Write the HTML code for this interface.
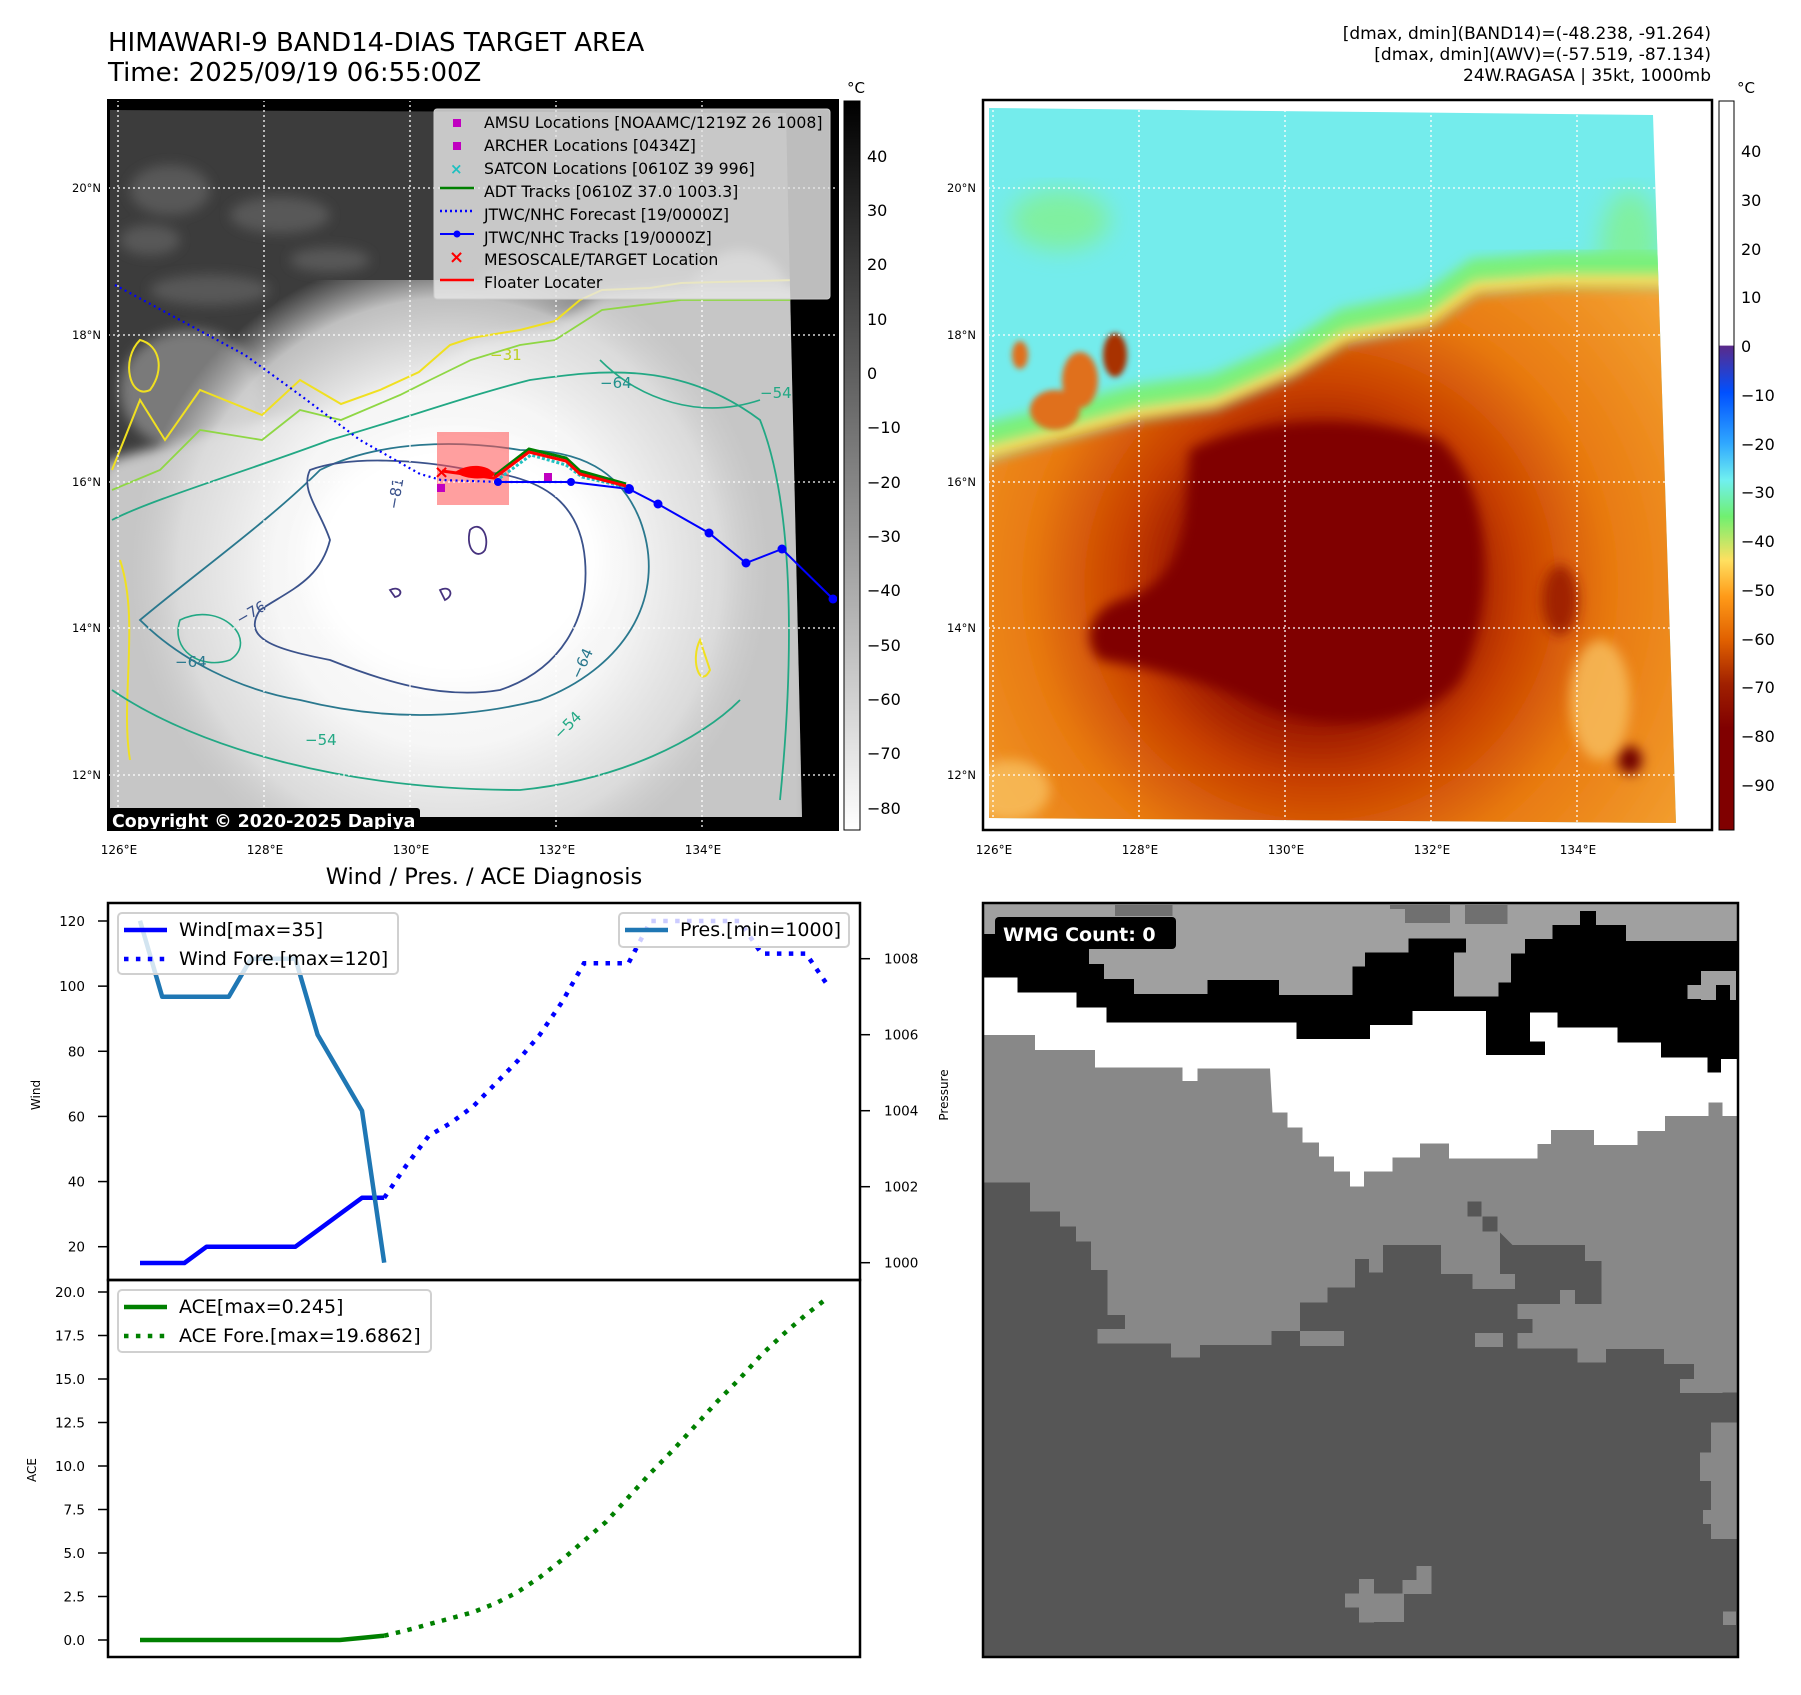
<!DOCTYPE html>
<html><head><meta charset="utf-8">
<style>
html,body{margin:0;padding:0;background:#fff;}
body{width:1801px;height:1690px;position:relative;overflow:hidden;font-family:"Liberation Sans","DejaVu Sans",sans-serif;}
svg text{font-family:"DejaVu Sans","Liberation Sans",sans-serif;}
</style></head>
<body>
<svg id="root" width="1801" height="1690" viewBox="0 0 1801 1690" xmlns="http://www.w3.org/2000/svg">
<defs>
  <filter id="b3"><feGaussianBlur stdDeviation="3"/></filter>
  <filter id="b6"><feGaussianBlur stdDeviation="6"/></filter>
  <filter id="b12"><feGaussianBlur stdDeviation="12"/></filter>
  <linearGradient id="cb1" x1="0" y1="0" x2="0" y2="1">
    <stop offset="0" stop-color="#000"/><stop offset="1" stop-color="#fff"/>
  </linearGradient>
  <linearGradient id="cb2" x1="0" y1="0" x2="0" y2="1">
    <stop offset="0" stop-color="#fff"/>
    <stop offset="0.335" stop-color="#fff"/>
    <stop offset="0.336" stop-color="#5a2a8a"/>
    <stop offset="0.40" stop-color="#0050ff"/>
    <stop offset="0.47" stop-color="#30a8ff"/>
    <stop offset="0.52" stop-color="#70f0f0"/>
    <stop offset="0.57" stop-color="#70f070"/>
    <stop offset="0.63" stop-color="#ffe060"/>
    <stop offset="0.68" stop-color="#ff9a18"/>
    <stop offset="0.74" stop-color="#e06000"/>
    <stop offset="0.80" stop-color="#a02000"/>
    <stop offset="0.86" stop-color="#800000"/>
    <stop offset="1" stop-color="#800000"/>
  </linearGradient>
  <radialGradient id="storm1" cx="450" cy="570" r="320" gradientUnits="userSpaceOnUse">
    <stop offset="0" stop-color="#fff"/><stop offset="0.55" stop-color="#f6f6f6"/>
    <stop offset="0.85" stop-color="#e0e0e0" stop-opacity="0.8"/><stop offset="1" stop-color="#d0d0d0" stop-opacity="0"/>
  </radialGradient>
  <radialGradient id="orange2" cx="1320" cy="585" r="470" gradientUnits="userSpaceOnUse">
    <stop offset="0.25" stop-color="#8a0800"/><stop offset="0.42" stop-color="#c84000"/>
    <stop offset="0.62" stop-color="#e87a10"/><stop offset="1" stop-color="#f6a838"/>
  </radialGradient>
</defs>

<!-- Titles -->
<text x="108" y="51" font-size="26" fill="#000">HIMAWARI-9 BAND14-DIAS TARGET AREA</text>
<text x="108" y="81" font-size="26" fill="#000">Time: 2025/09/19 06:55:00Z</text>
<g font-size="17" text-anchor="end" fill="#000">
  <text x="1711" y="39">[dmax, dmin](BAND14)=(-48.238, -91.264)</text>
  <text x="1711" y="60">[dmax, dmin](AWV)=(-57.519, -87.134)</text>
  <text x="1711" y="81">24W.RAGASA | 35kt, 1000mb</text>
</g>

<!-- MAP 1 -->
<g>
  <clipPath id="m1clip"><rect x="108" y="100" width="730" height="730"/></clipPath>
  <rect x="108" y="100" width="730" height="730" fill="#000"/>
  <g clip-path="url(#m1clip)">
    <clipPath id="m1data"><polygon points="110,110 786,113 802,817 110,817"/></clipPath>
    <g clip-path="url(#m1data)">
      <rect x="100" y="100" width="740" height="740" fill="#3c3c3c"/>
      <g filter="url(#b6)" fill="#585858">
        <ellipse cx="170" cy="190" rx="40" ry="25"/><ellipse cx="280" cy="215" rx="50" ry="18"/>
        <ellipse cx="330" cy="260" rx="40" ry="12"/><ellipse cx="210" cy="290" rx="60" ry="15"/>
        <ellipse cx="600" cy="280" rx="120" ry="25" fill="#707070"/><ellipse cx="740" cy="300" rx="50" ry="50" fill="#9a9a9a"/>
        <ellipse cx="190" cy="390" rx="70" ry="60" fill="#7a7a7a"/><ellipse cx="150" cy="240" rx="30" ry="15"/>
      </g>
      <path filter="url(#b6)" fill="#c6c6c6" d="M100,470 L114,459 L165,445 L262,420 L341,409 L419,376 L471,343 L555,326 L602,293 L681,287 L810,287 L810,830 L100,830 Z"/>
      <rect x="100" y="280" width="740" height="560" fill="url(#storm1)"/>
      <ellipse cx="455" cy="560" rx="150" ry="125" fill="#fff" filter="url(#b12)"/>
      <!-- contours -->
      <path fill="none" stroke="#f0e020" stroke-width="2" d="M112,470 L140,400 L165,440 L200,390 L262,415 L300,380 L341,404 L380,390 L419,372 L450,345 L471,338 L520,330 L555,321 L580,300 L602,290 L650,288 L681,283 L795,280"/>
      <path fill="none" stroke="#f0e020" stroke-width="2" d="M140,340 C120,360 130,400 150,390 C165,370 160,345 140,340 Z M120,560 C140,620 120,700 130,760 M700,640 C690,660 700,690 710,670 Z"/>
      <path fill="none" stroke="#8fd744" stroke-width="1.8" d="M112,490 L160,470 L200,430 L262,440 L300,410 L341,420 L400,395 L430,380 L471,360 L520,345 L555,340 L602,310 L681,300 L795,300"/>
      <path fill="none" stroke="#22a884" stroke-width="1.8" d="M112,520 C150,500 250,470 330,440 C400,420 470,395 530,380 C600,370 680,360 760,420 C800,520 790,700 780,800 M112,690 C200,750 350,790 520,790 C620,780 700,740 740,700"/>
      <path fill="none" stroke="#22a884" stroke-width="1.6" d="M600,360 C640,400 700,420 760,400 M180,620 C220,600 260,640 230,660 C200,670 170,650 180,620 Z"/>
      <path fill="none" stroke="#2a788e" stroke-width="1.8" d="M140,620 C200,570 270,520 320,470 C380,440 460,440 520,450 C580,450 620,470 640,520 C670,600 620,670 540,700 C460,720 380,720 300,700 C240,690 180,660 140,620 Z"/>
      <path fill="none" stroke="#3b528b" stroke-width="1.8" d="M310,470 C350,455 420,460 470,470 C540,475 580,500 585,560 C590,620 560,670 500,690 C440,700 380,680 330,660 C280,650 240,640 260,610 C290,590 320,580 330,540 C320,510 300,490 310,470 Z"/>
      <path fill="none" stroke="#46327e" stroke-width="1.8" d="M470,530 C480,520 490,535 485,550 C478,560 465,550 470,530 Z M440,590 C450,585 455,595 445,600 Z M390,590 C400,585 405,595 395,597 Z"/>
      <rect x="437" y="432" width="72" height="73" fill="#ff5050" fill-opacity="0.55"/>
      <g font-size="15" fill="#2a788e">
        <text x="600" y="388" fill="#21918c">−64</text>
        <text x="760" y="398" fill="#22a884">−54</text>
        <text x="175" y="667">−64</text>
        <text x="305" y="745" fill="#22a884">−54</text>
        <text x="490" y="360" fill="#bcd020">−31</text>
        <text transform="translate(398,510) rotate(-80)" fill="#3b528b">−81</text>
        <text transform="translate(240,625) rotate(-30)" fill="#3b528b">−76</text>
        <text transform="translate(580,680) rotate(-65)">−64</text>
        <text transform="translate(560,740) rotate(-45)" fill="#22a884">−54</text>
      </g>
    </g>
    <g stroke="#fff" stroke-width="1.3" stroke-dasharray="2 3">
      <line x1="118" y1="100" x2="118" y2="830"/><line x1="264" y1="100" x2="264" y2="830"/>
      <line x1="410" y1="100" x2="410" y2="830"/><line x1="556" y1="100" x2="556" y2="830"/>
      <line x1="702" y1="100" x2="702" y2="830"/>
      <line x1="108" y1="188" x2="838" y2="188"/><line x1="108" y1="335" x2="838" y2="335"/>
      <line x1="108" y1="482" x2="838" y2="482"/><line x1="108" y1="628" x2="838" y2="628"/>
      <line x1="108" y1="775" x2="838" y2="775"/>
    </g>
    <polyline fill="none" stroke="#0000ff" stroke-width="2.2" stroke-dasharray="2 3.5" points="115,285 180,320 245,355 300,395 360,440 420,474 441,480 500,482 571,482"/>
    <g>
      <polyline fill="none" stroke="#0000ff" stroke-width="2" points="498,482 571,482 629,489 658,504 709,533 746,563 782,549 833,599"/>
      <g fill="#0000ff"><circle cx="498" cy="482" r="4"/><circle cx="571" cy="482" r="4"/><circle cx="629" cy="489" r="5"/><circle cx="658" cy="504" r="4.5"/><circle cx="709" cy="533" r="4.5"/><circle cx="746" cy="563" r="4.5"/><circle cx="782" cy="549" r="4.5"/><circle cx="833" cy="599" r="4.5"/></g>
    </g>
    <polyline fill="none" stroke="#20c0c0" stroke-width="3" stroke-dasharray="3 2" points="500,478 531,455 566,465 582,477 626,487"/>
    <polyline fill="none" stroke="#008000" stroke-width="3" points="494,476 529,449 566,458 580,471 626,484"/>
    <polyline fill="none" stroke="#ff0000" stroke-width="3" points="442,471 494,478 529,452 566,461 580,474 626,486"/>
    <path d="M455,472 C470,462 490,465 495,475 C485,480 465,480 455,472 Z" fill="#ff0000"/>
    <text x="434" y="478" font-size="18" font-weight="bold" fill="#ff0000">×</text>
    <rect x="437" y="484" width="8" height="8" fill="#c000c0"/>
    <rect x="544" y="473" width="8" height="8" fill="#c000c0"/>
    <g>
      <rect x="434" y="109" width="396" height="190" rx="3" fill="#e6e6e6" fill-opacity="0.82" stroke="#cccccc"/>
      <rect x="453" y="119" width="8" height="8" fill="#c000c0"/>
      <rect x="453" y="142" width="8" height="8" fill="#c000c0"/>
      <text x="450" y="174" font-size="15" font-weight="bold" fill="#20c0c0">×</text>
      <line x1="440" y1="188" x2="474" y2="188" stroke="#008000" stroke-width="2.5"/>
      <line x1="440" y1="211" x2="474" y2="211" stroke="#0000ff" stroke-width="2.5" stroke-dasharray="2 3"/>
      <line x1="440" y1="234" x2="474" y2="234" stroke="#0000ff" stroke-width="2"/><circle cx="457" cy="234" r="3.5" fill="#0000ff"/>
      <text x="449" y="263" font-size="18" font-weight="bold" fill="#ff0000">×</text>
      <line x1="440" y1="280" x2="474" y2="280" stroke="#ff0000" stroke-width="2.5"/>
      <g font-size="15.7" fill="#000">
        <text x="484" y="128">AMSU Locations [NOAAMC/1219Z 26 1008]</text>
        <text x="484" y="151">ARCHER Locations [0434Z]</text>
        <text x="484" y="174">SATCON Locations [0610Z 39 996]</text>
        <text x="484" y="197">ADT Tracks [0610Z 37.0 1003.3]</text>
        <text x="484" y="220">JTWC/NHC Forecast [19/0000Z]</text>
        <text x="484" y="243">JTWC/NHC Tracks [19/0000Z]</text>
        <text x="484" y="265">MESOSCALE/TARGET Location</text>
        <text x="484" y="288">Floater Locater</text>
      </g>
    </g>
    <g>
      <rect x="108" y="808" width="312" height="24" rx="3" fill="#000"/>
      <text x="112" y="827" font-size="17.4" font-weight="bold" fill="#fff">Copyright © 2020-2025 Dapiya</text>
    </g>
  </g>
  <rect x="108" y="100" width="730" height="730" fill="none" stroke="#000" stroke-width="2"/>
  <g font-size="11.5" fill="#000" text-anchor="end">
    <text x="101" y="192">20°N</text><text x="101" y="339">18°N</text><text x="101" y="486">16°N</text><text x="101" y="632">14°N</text><text x="101" y="779">12°N</text>
  </g>
  <g font-size="12" fill="#000" text-anchor="middle">
    <text x="119" y="854">126°E</text><text x="265" y="854">128°E</text><text x="411" y="854">130°E</text><text x="557" y="854">132°E</text><text x="703" y="854">134°E</text>
  </g>
</g>

<g>
  <rect x="844" y="101" width="16" height="729" fill="url(#cb1)" stroke="#000" stroke-width="1"/>
  <text x="856" y="93" font-size="15" text-anchor="middle">°C</text>
  <g font-size="16" fill="#000">
    <text x="867" y="162">40</text><text x="867" y="216">30</text><text x="867" y="270">20</text><text x="867" y="325">10</text>
    <text x="867" y="379">0</text><text x="867" y="433">−10</text><text x="867" y="488">−20</text><text x="867" y="542">−30</text>
    <text x="867" y="596">−40</text><text x="867" y="651">−50</text><text x="867" y="705">−60</text><text x="867" y="759">−70</text><text x="867" y="814">−80</text>
  </g>
</g>

<!-- MAP 2 -->
<g>
  <clipPath id="m2clip"><polygon points="989,108 1653,115 1676,823 989,818"/></clipPath>
  <rect x="983" y="100" width="729" height="730" fill="#fff"/>
  <g clip-path="url(#m2clip)">
    <rect x="980" y="100" width="740" height="740" fill="#74ecec"/>
    <g filter="url(#b12)" fill="#80f0a0">
      <ellipse cx="1060" cy="220" rx="50" ry="30"/><ellipse cx="1630" cy="250" rx="30" ry="60"/>
      <ellipse cx="1580" cy="290" rx="70" ry="25"/>
    </g>
    <path filter="url(#b6)" fill="none" stroke="#7af07a" stroke-width="30" d="M980,440 L1040,425 L1137,400 L1216,389 L1294,356 L1346,323 L1430,306 L1477,273 L1556,267 L1690,267"/>
    <path filter="url(#b6)" fill="none" stroke="#f8e060" stroke-width="16" d="M980,455 L1040,440 L1137,415 L1216,404 L1294,371 L1346,338 L1430,321 L1477,288 L1556,282 L1690,282"/>
    <g filter="url(#b3)" fill="#e0701a">
      <ellipse cx="1020" cy="355" rx="8" ry="14"/><ellipse cx="1080" cy="380" rx="18" ry="28"/>
      <ellipse cx="1115" cy="355" rx="12" ry="22" fill="#a83000"/><ellipse cx="1055" cy="410" rx="25" ry="20"/>
    </g>
    <path filter="url(#b6)" fill="url(#orange2)" d="M975,470 L989,459 L1040,445 L1137,420 L1216,409 L1294,376 L1346,343 L1430,326 L1477,293 L1556,287 L1700,287 L1700,840 L975,840 Z"/>
    <g filter="url(#b6)" fill="#800000">
      <path d="M1190,450 C1250,420 1350,410 1440,440 C1500,500 1490,620 1460,680 C1420,730 1320,735 1250,700 C1200,680 1160,670 1100,660 C1080,640 1090,610 1120,600 C1160,590 1180,560 1185,520 Z"/>
      <ellipse cx="1560" cy="600" rx="18" ry="35" fill="#a02000"/>
      <ellipse cx="1630" cy="760" rx="12" ry="14" fill="#700000"/>
    </g>
    <g filter="url(#b6)" fill="#f8c060" opacity="0.8">
      <ellipse cx="1010" cy="790" rx="40" ry="30"/><ellipse cx="1600" cy="700" rx="30" ry="60"/>
    </g>
  </g>
  <g stroke="#fff" stroke-width="1.3" stroke-dasharray="2 3">
    <line x1="993" y1="100" x2="993" y2="830"/><line x1="1139" y1="100" x2="1139" y2="830"/>
    <line x1="1285" y1="100" x2="1285" y2="830"/><line x1="1431" y1="100" x2="1431" y2="830"/>
    <line x1="1577" y1="100" x2="1577" y2="830"/>
    <line x1="983" y1="188" x2="1712" y2="188"/><line x1="983" y1="335" x2="1712" y2="335"/>
    <line x1="983" y1="482" x2="1712" y2="482"/><line x1="983" y1="628" x2="1712" y2="628"/>
    <line x1="983" y1="775" x2="1712" y2="775"/>
  </g>
  <rect x="983" y="100" width="729" height="730" fill="none" stroke="#000" stroke-width="2.5"/>
  <g font-size="11.5" fill="#000" text-anchor="end">
    <text x="976" y="192">20°N</text><text x="976" y="339">18°N</text><text x="976" y="486">16°N</text><text x="976" y="632">14°N</text><text x="976" y="779">12°N</text>
  </g>
  <g font-size="12" fill="#000" text-anchor="middle">
    <text x="994" y="854">126°E</text><text x="1140" y="854">128°E</text><text x="1286" y="854">130°E</text><text x="1432" y="854">132°E</text><text x="1578" y="854">134°E</text>
  </g>
</g>

<g>
  <rect x="1719" y="101" width="15" height="729" fill="url(#cb2)" stroke="#000" stroke-width="1"/>
  <text x="1746" y="93" font-size="15" text-anchor="middle">°C</text>
  <g font-size="16" fill="#000">
    <text x="1741" y="157">40</text><text x="1741" y="206">30</text><text x="1741" y="255">20</text><text x="1741" y="303">10</text>
    <text x="1741" y="352">0</text><text x="1741" y="401">−10</text><text x="1741" y="450">−20</text><text x="1741" y="498">−30</text>
    <text x="1741" y="547">−40</text><text x="1741" y="596">−50</text><text x="1741" y="645">−60</text><text x="1741" y="693">−70</text>
    <text x="1741" y="742">−80</text><text x="1741" y="791">−90</text>
  </g>
</g>

<text x="484" y="884" font-size="22.5" text-anchor="middle">Wind / Pres. / ACE Diagnosis</text>
<g id="charts"></g>

<!-- WMG panel -->
<g>
  <clipPath id="wclip"><rect x="983" y="903" width="755" height="754"/></clipPath>
  <g clip-path="url(#wclip)">
    <g transform="translate(980,900) scale(0.5)">
      <rect x="0" y="0" width="1530" height="1530" fill="#888888"/>
      <polygon fill="#565656" points="0,565 100,565 100,623 160,623 160,653 192,653 192,683 222,683 222,740 255,740 255,830 290,830 290,858 235,858 235,887 382,887 382,915 440,915 440,890 583,890 583,862 640,862 640,805 695,805 695,775 750,775 750,718 778,718 778,745 806,745 806,690 922,690 922,748 985,748 985,778 1070,778 1070,748 1040,748 1040,665 1065,690 1210,690 1210,722 1243,722 1243,808 1190,808 1190,780 1160,780 1160,808 1075,808 1075,838 1105,838 1105,866 1075,866 1075,897 1195,897 1195,925 1252,925 1252,898 1368,898 1368,928 1428,928 1428,958 1485,958 1485,985 1520,985 1520,1530 0,1530"/>
      <g fill="#888888">
        <rect x="1462" y="1045" width="58" height="233"/><rect x="1440" y="1105" width="40" height="57"/><rect x="1446" y="1220" width="30" height="28"/>
        <rect x="758" y="1358" width="30" height="87"/><rect x="730" y="1387" width="118" height="28"/><rect x="788" y="1387" width="60" height="57"/>
        <rect x="845" y="1360" width="58" height="28"/><rect x="873" y="1332" width="30" height="28"/>
        <rect x="640" y="862" width="88" height="30"/><rect x="990" y="866" width="56" height="28"/><rect x="1486" y="1423" width="26" height="27"/>
        <rect x="1400" y="958" width="85" height="28"/>
      </g>
      <g fill="#565656"><rect x="975" y="603" width="28" height="30"/><rect x="1005" y="633" width="30" height="30"/></g>
      <polygon fill="#ffffff" points="0,0 1520,0 1520,432 1485,432 1485,405 1457,405 1457,432 1370,432 1370,462 1315,462 1315,490 1228,490 1228,460 1142,460 1142,488 1115,488 1115,517 938,517 938,487 880,487 880,515 825,515 825,543 768,543 768,573 740,573 740,543 708,543 708,513 678,513 678,485 645,485 645,455 615,455 615,425 585,425 580,337 435,337 435,362 405,362 405,335 230,335 230,300 110,300 110,270 0,270"/>
      <polygon fill="#000000" points="0,0 1520,0 1520,318 1482,318 1482,345 1455,345 1455,315 1362,315 1362,285 1275,285 1275,255 1155,255 1155,225 1100,225 1100,283 1130,283 1130,310 1012,310 1012,222 865,222 865,250 780,250 780,278 633,278 633,245 253,245 253,215 193,215 193,185 75,185 75,155 0,155"/>
      <polygon fill="#a0a0a0" points="0,0 1520,0 1520,82 1292,82 1292,50 1232,50 1232,22 1200,22 1200,50 1145,50 1145,78 1090,78 1090,107 1062,107 1062,165 1037,165 1037,193 948,193 948,105 972,105 972,77 857,77 857,105 770,105 770,133 745,133 745,190 598,190 598,160 455,160 455,188 308,188 308,158 248,158 248,128 218,128 218,68 0,68"/>
      <g fill="#a0a0a0"><rect x="1442" y="142" width="70" height="58"/><rect x="1415" y="170" width="28" height="28"/></g>
      <rect x="1472" y="170" width="28" height="30" fill="#000"/>
      <g fill="#707070"><rect x="270" y="10" width="115" height="22"/><rect x="850" y="10" width="90" height="36"/><rect x="970" y="10" width="85" height="38"/><rect x="820" y="10" width="30" height="8"/></g>
    </g>
    <g>
      <rect x="995" y="917" width="181" height="32" rx="4" fill="#000"/>
      <text x="1003" y="941" font-size="19" font-weight="bold" fill="#fff">WMG Count: 0</text>
    </g>
  </g>
  <rect x="983" y="903" width="755" height="754" fill="none" stroke="#000" stroke-width="2.5"/>
</g>
</svg>

<script>
// ---- chart data ----
const idxObs = [0,1,2,3,4,5,6,7,8,9,10,11];
const idxFore = [11,12,13,14,15,16,17,18,19,20,21,22,23,24,25,26,27,28,29,30,31];
const windObs = [15,15,15,20,20,20,20,20,25,30,35,35];
const windFore = [35,45,54,58,63,70,77,85,95,107,107,107,120,120,120,120,120,110,110,110,100];
const presObs = [1009,1007,1007,1007,1007,1008,1008,1008,1006,1005,1004,1000];
const aceObs = [0,0,0,0,0,0,0,0,0,0,0.12,0.245];
const aceFore = [0.245,0.55,0.9,1.25,1.6,2.1,2.75,3.6,4.6,5.7,6.8,8.2,9.6,10.9,12.3,13.7,15.0,16.4,17.6,18.7,19.69];
const windTicks = [20,40,60,80,100,120];
const presTicks = [1000,1002,1004,1006,1008];
const aceTicks = [0,2.5,5,7.5,10,12.5,15,17.5,20];

const NS = 'http://www.w3.org/2000/svg';
const g = document.getElementById('charts');
function el(tag, attrs, parent){ const e=document.createElementNS(NS,tag); for(const k in attrs) e.setAttribute(k,attrs[k]); (parent||g).appendChild(e); return e; }

const xT = i => 140 + i*22.2;
const yW = v => 1246.7 - (v-20)*3.257;
const yP = v => 1262.7 - (v-1000)*38.0;
const yA = v => 1640 - v*17.4;

function pts(xs, ys, fy){ return xs.map((x,i)=>xT(x).toFixed(1)+','+fy(ys[i]).toFixed(1)).join(' '); }

const cp = el('clipPath',{id:'wclipc'}); el('rect',{x:108,y:903,width:752,height:377},cp);
const cp2 = el('clipPath',{id:'aclipc'}); el('rect',{x:108,y:1280,width:752,height:377},cp2);

const wg = el('g',{'clip-path':'url(#wclipc)'});
const lWindObs = el('polyline',{points:pts(idxObs,windObs,yW),fill:'none',stroke:'#0000ff','stroke-width':4.5,'stroke-linejoin':'round'},wg);


const lWindFore = el('polyline',{points:pts(idxFore,windFore,yW),fill:'none',stroke:'#0000ff','stroke-width':4.5,'stroke-dasharray':'4.5 7.4'},wg);


const lPres = el('polyline',{points:pts(idxObs,presObs,yP),fill:'none',stroke:'#1f77b4','stroke-width':4.5,'stroke-linejoin':'round'},wg);



const ag = el('g',{'clip-path':'url(#aclipc)'});
const lAce = el('polyline',{points:pts(idxObs,aceObs,yA),fill:'none',stroke:'#008000','stroke-width':4.5},ag);


const lAceF = el('polyline',{points:pts(idxFore,aceFore,yA),fill:'none',stroke:'#008000','stroke-width':4.5,'stroke-dasharray':'4.5 7.4'},ag);



windTicks.forEach(v=>{
  el('line',{x1:98,x2:108,y1:yW(v),y2:yW(v),stroke:'#000','stroke-width':1.5});
  const t=el('text',{x:85,y:yW(v)+5,'font-size':13.5,'text-anchor':'end'}); t.textContent=v;
  
  
});
presTicks.forEach(v=>{
  el('line',{x1:860,x2:870,y1:yP(v),y2:yP(v),stroke:'#000','stroke-width':1.5});
  const t=el('text',{x:884,y:yP(v)+5,'font-size':13.5}); t.textContent=v;
  
  
});
aceTicks.forEach(v=>{
  el('line',{x1:98,x2:108,y1:yA(v),y2:yA(v),stroke:'#000','stroke-width':1.5});
  const t=el('text',{x:85,y:yA(v)+5,'font-size':13.5,'text-anchor':'end'}); t.textContent=v.toFixed(1);
  
  
});
const yl1=el('text',{transform:'translate(40,1095) rotate(-90)','font-size':12,'text-anchor':'middle'}); yl1.textContent='Wind';


const yl2=el('text',{transform:'translate(948,1095) rotate(-90)','font-size':12,'text-anchor':'middle'}); yl2.textContent='Pressure';


const yl3=el('text',{transform:'translate(36,1470) rotate(-90)','font-size':12,'text-anchor':'middle'}); yl3.textContent='ACE';



function legend(x,y,w,h,items,name){
  const lg=el('g',{});
  
  
  el('rect',{x:x,y:y,width:w,height:h,rx:4,fill:'#fff','fill-opacity':0.8,stroke:'#d0d0d0','stroke-width':2},lg);
  items.forEach((it,i)=>{
    const yy=y+23+i*29;
    const a={x1:x+6,x2:x+49,y1:yy-6,y2:yy-6,stroke:it.c,'stroke-width':4.5};
    if(it.d) a['stroke-dasharray']='4.5 7.4';
    el('line',a,lg);
    const t=el('text',{x:x+61,y:yy,'font-size':19},lg); t.textContent=it.t;
  });
}
legend(118,913,280,61,[{c:'#0000ff',t:'Wind[max=35]'},{c:'#0000ff',t:'Wind Fore.[max=120]',d:1}],'wind-legend');
legend(619,913,230,34,[{c:'#1f77b4',t:'Pres.[min=1000]'}],'pressure-legend');
legend(118,1290,313,62,[{c:'#008000',t:'ACE[max=0.245]'},{c:'#008000',t:'ACE Fore.[max=19.6862]',d:1}],'ace-legend');

const f1=el('rect',{x:108,y:903,width:752,height:377,fill:'none',stroke:'#000','stroke-width':2.5});


const f2=el('rect',{x:108,y:1280,width:752,height:377,fill:'none',stroke:'#000','stroke-width':2.5});


</script>
</body></html>
